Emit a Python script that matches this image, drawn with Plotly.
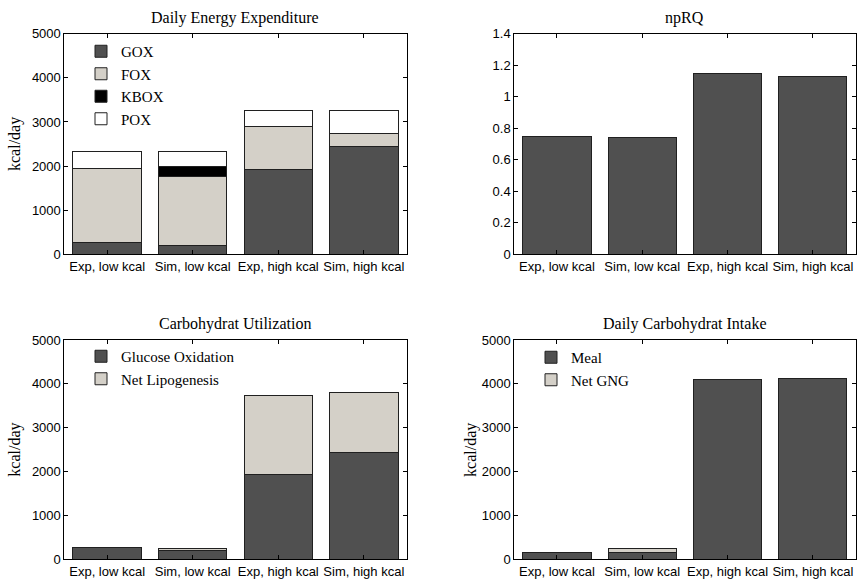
import plotly.graph_objects as go

W, H = 857, 581

categories = ["Exp, low kcal", "Sim, low kcal", "Exp, high kcal", "Sim, high kcal"]

# Daily Energy Expenditure (kcal/day), stacked
gox = [272, 196, 1926, 2440]
fox = [1677, 1564, 967, 294]
kbox = [0, 219, 0, 0]
pox = [377, 347, 370, 529]

# npRQ
nprq = [0.75, 0.74, 1.15, 1.13]

# Carbohydrat Utilization (kcal/day), stacked
glucose_oxidation = [272, 196, 1926, 2440]
net_lipogenesis = [0, 50, 1820, 1367]

# Daily Carbohydrat Intake (kcal/day), stacked
meal = [165, 165, 4103, 4119]
net_gng = [0, 85, 0, 0]

DARK = "#505050"
LIGHT = "#d4d0c8"
EDGE = "#202020"

SERIF = "Liberation Serif, Times New Roman, serif"
SANS = "Liberation Sans, Arial, sans-serif"


def px_x(p):
    return p / W


def px_y(p):
    return 1 - p / H


fig = go.Figure()


def bar(x_ax, y_ax, name, vals, color, legend=None, show=True):
    fig.add_trace(go.Bar(
        x=categories, y=vals, name=name, xaxis=x_ax, yaxis=y_ax,
        marker=dict(color=color, line=dict(color=EDGE, width=1)),
        showlegend=show and legend is not None,
        legend=legend if legend else "legend",
        hoverinfo="skip",
    ))


bar("x", "y", "GOX", gox, DARK, "legend")
bar("x", "y", "FOX", fox, LIGHT, "legend")
bar("x", "y", "KBOX", kbox, "#000000", "legend")
bar("x", "y", "POX", pox, "#ffffff", "legend")

bar("x2", "y2", "npRQ", nprq, DARK, None, False)

bar("x3", "y3", "Glucose Oxidation", glucose_oxidation, DARK, "legend2")
bar("x3", "y3", "Net Lipogenesis", net_lipogenesis, LIGHT, "legend2")

bar("x4", "y4", "Meal", meal, DARK, "legend3")
bar("x4", "y4", "Net GNG", net_gng, LIGHT, "legend3")

left_col = [px_x(64.4), px_x(406.6)]
right_col = [px_x(514.3), px_x(855.5)]
top_row = [px_y(254.3), px_y(33.7)]
bot_row = [px_y(559.3), px_y(340.0)]

axis_common = dict(
    showline=True, linecolor="black", linewidth=1, mirror="allticks",
    ticks="inside", ticklen=4, tickcolor="black", tickwidth=1,
    showgrid=False, zeroline=False,
    tickfont=dict(family=SANS, size=13, color="black"),
    automargin=False,
)

xax = dict(axis_common, type="category", categoryorder="array",
           categoryarray=categories, range=[-0.5, 3.5])

fig.update_layout(
    width=W, height=H,
    margin=dict(l=0, r=0, t=0, b=0),
    paper_bgcolor="white", plot_bgcolor="white",
    barmode="stack", bargap=0.2,
    xaxis=dict(xax, domain=left_col, anchor="y"),
    yaxis=dict(axis_common, domain=top_row, anchor="x", range=[0, 5000], dtick=1000),
    xaxis2=dict(xax, domain=right_col, anchor="y2"),
    yaxis2=dict(axis_common, domain=top_row, anchor="x2", range=[0, 1.4], dtick=0.2),
    xaxis3=dict(xax, domain=left_col, anchor="y3"),
    yaxis3=dict(axis_common, domain=bot_row, anchor="x3", range=[0, 5000], dtick=1000),
    xaxis4=dict(xax, domain=right_col, anchor="y4"),
    yaxis4=dict(axis_common, domain=bot_row, anchor="x4", range=[0, 5000], dtick=1000),
    legend=dict(x=px_x(81), y=px_y(35), xanchor="left", yanchor="top",
                bgcolor="rgba(0,0,0,0)", borderwidth=0,
                font=dict(family=SERIF, size=15, color="black"),
                traceorder="normal", tracegroupgap=0),
    legend2=dict(x=px_x(81), y=px_y(340), xanchor="left", yanchor="top",
                 bgcolor="rgba(0,0,0,0)", borderwidth=0,
                 font=dict(family=SERIF, size=15, color="black"),
                 traceorder="normal"),
    legend3=dict(x=px_x(531), y=px_y(341), xanchor="left", yanchor="top",
                 bgcolor="rgba(0,0,0,0)", borderwidth=0,
                 font=dict(family=SERIF, size=15, color="black"),
                 traceorder="normal"),
)

titles = [
    ("Daily Energy Expenditure", (64.4 + 406.6) / 2, 18.3),
    ("npRQ", (514.3 + 855.5) / 2, 18.3),
    ("Carbohydrat Utilization", (64.4 + 406.6) / 2, 324.3),
    ("Daily Carbohydrat Intake", (514.3 + 855.5) / 2, 324.3),
]
for text, cx, cy in titles:
    fig.add_annotation(text=text, x=px_x(cx), y=px_y(cy), xref="paper", yref="paper",
                       showarrow=False, xanchor="center", yanchor="middle",
                       font=dict(family=SERIF, size=16, color="black"))

ytitles = [
    (15, (33.7 + 254.3) / 2),
    (15, (340 + 559.3) / 2),
    (470.3, (340 + 559.3) / 2),
]
for cx, cy in ytitles:
    fig.add_annotation(text="kcal/day", x=px_x(cx), y=px_y(cy), xref="paper", yref="paper",
                       showarrow=False, xanchor="center", yanchor="middle", textangle=-90,
                       font=dict(family=SERIF, size=16, color="black"))

fig.write_html("out.html")
